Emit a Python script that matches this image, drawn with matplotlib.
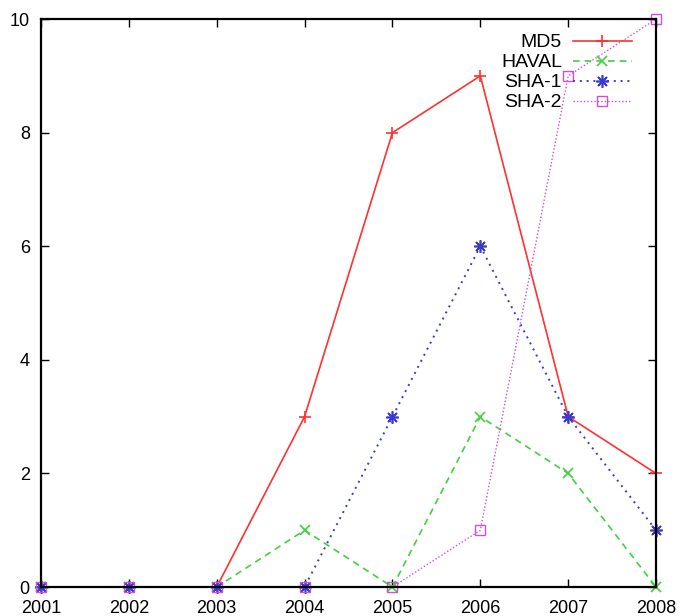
import matplotlib
matplotlib.use("Agg")
import matplotlib.pyplot as plt

years = [2001, 2002, 2003, 2004, 2005, 2006, 2007, 2008]
md5 = [0, 0, 0, 3, 8, 9, 3, 2]
haval = [0, 0, 0, 1, 0, 3, 2, 0]
sha1 = [0, 0, 0, 0, 3, 6, 3, 1]
sha2 = [0, 0, 0, 0, 0, 1, 9, 10]
yticks = [0, 2, 4, 6, 8, 10]

plt.rcParams['font.family'] = ['Liberation Sans', 'DejaVu Sans']
fig = plt.figure(figsize=(6.82, 6.16), dpi=100)
ax = fig.add_axes([0.060, 0.047, 0.902, 0.922])

ax.plot(years, md5, color='#ff3030', lw=1.2, ls='-', marker='+', ms=8, mew=1.2,
        label='MD5', clip_on=False)
ax.plot(years, haval, color='#40d040', lw=1.2, ls=(0, (4, 3)), marker='x', ms=7, mew=1.2,
        label='HAVAL', clip_on=False)
ax.plot(years, sha1, color='#3a3ad0', lw=1.4, ls=(0, (1, 2.5)), marker=(8, 2, 0), ms=9, mew=1.2,
        label='SHA-1', clip_on=False)
ax.plot(years, sha2, color='#d050d0', lw=1.0, ls=(0, (1, 1.5)), marker='s', ms=7, mew=1.0,
        mfc='none', label='SHA-2', clip_on=False)

ax.set_xlim(2001, 2008)
ax.set_ylim(0, 10)
ax.set_xticks(years)
ax.set_xticklabels([str(y) for y in years])
ax.set_yticks(yticks)
ax.tick_params(direction='in', top=True, right=True, length=6, width=1, labelsize=13)
ax.tick_params(axis='x', pad=9)
ax.tick_params(axis='y', pad=8)
for s in ax.spines.values():
    s.set_linewidth(1.6)

leg = ax.legend(loc='upper right', frameon=False, markerfirst=False, handlelength=3.05,
                fontsize=14, labelspacing=0.12, borderaxespad=0, borderpad=0,
                handletextpad=0.55, bbox_to_anchor=(0.961, 0.974))
for t in leg.get_texts():
    t.set_ha('right')

fig.savefig('out.png', dpi=100)
